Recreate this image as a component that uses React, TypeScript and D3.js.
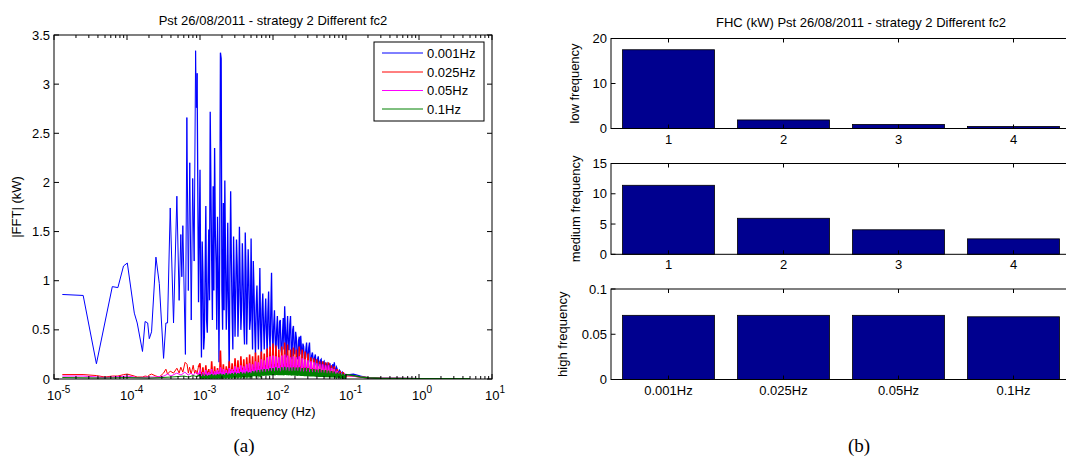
import React from "react";
import * as d3 from "d3";

type Pt = [number, number];

// ---------- Left chart: |FFT| spectra ----------
const legendLabels = ["0.001Hz", "0.025Hz", "0.05Hz", "0.1Hz"];
const seriesColors = ["#0000ff", "#ff0000", "#ff00ff", "#008000"];

// dense frequency grid for the 1e-3 and 1e-2 decades: main points and in-between points
const gridMantissa = [1.0, 1.047, 1.096, 1.148, 1.202, 1.259, 1.318, 1.38, 1.445, 1.514, 1.585, 1.66, 1.738, 1.82, 1.905, 1.995, 2.089, 2.188, 2.291, 2.399, 2.512, 2.63, 2.754, 2.884, 3.02, 3.162, 3.311, 3.467, 3.631, 3.802, 3.981, 4.169, 4.365, 4.571, 4.786, 5.012, 5.248, 5.495, 5.754, 6.026, 6.31, 6.607, 6.918, 7.244, 7.586, 7.943, 8.318, 8.71, 9.12, 9.55];
const midMantissa = [1.023, 1.072, 1.122, 1.175, 1.23, 1.288, 1.349, 1.413, 1.479, 1.549, 1.622, 1.698, 1.778, 1.862, 1.95, 2.042, 2.138, 2.239, 2.344, 2.455, 2.57, 2.692, 2.818, 2.951, 3.09, 3.236, 3.388, 3.548, 3.715, 3.89, 4.074, 4.266, 4.467, 4.677, 4.898, 5.129, 5.37, 5.623, 5.888, 6.166, 6.457, 6.761, 7.079, 7.413, 7.762, 8.128, 8.511, 8.913, 9.333, 9.772];
const gridDecades = [1e-3, 1e-2];

const blueLow: Pt[] = [[1.3e-5, 0.86], [2.51e-5, 0.85], [3.81e-5, 0.155], [6.29e-5, 0.94], [7.5e-5, 0.93], [8.96e-5, 1.15], [1.01e-4, 1.18], [1.26e-4, 0.67], [1.38e-4, 0.57], [1.63e-4, 0.28], [1.77e-4, 0.585], [1.92e-4, 0.57], [2.02e-4, 0.41], [2.17e-4, 0.48], [2.49e-4, 1.24], [2.77e-4, 0.97], [3.17e-4, 0.21], [3.41e-4, 0.57], [3.59e-4, 0.57], [3.91e-4, 1.74], [4.34e-4, 0.57], [4.82e-4, 1.86], [5.18e-4, 0.8], [5.46e-4, 1.47], [5.64e-4, 1.04], [5.82e-4, 1.56], [6.31e-4, 0.25], [6.607e-4, 2.66], [6.918e-4, 0.9], [7.244e-4, 2.2], [7.586e-4, 0.6], [7.943e-4, 2.04], [8.318e-4, 1.2], [8.71e-4, 3.34], [8.91e-4, 2.76], [9.12e-4, 3.11], [9.55e-4, 0.78]];
const blueGrid = [2.13, 0.22, 1.08, 0.43, 1.76, 0.47, 1.52, 2.72, 1.21, 1.96, 2.35, 1.18, 1.65, 0.17, 3.32, 0.91, 1.79, 2.02, 0.5, 1.59, 0.04, 1.91, 0.67, 1.45, 0.43, 1.42, 0.43, 1.55, 0.5, 1.38, 0.57, 1.49, 0.35, 1.32, 0.5, 1.43, 0.3, 0.91, 0.25, 0.95, 0.3, 1.13, 0.2, 0.87, 0.3, 0.82, 0.25, 0.89, 0.3, 1.08,
  0.3, 0.7, 0.25, 0.64, 0.3, 0.6, 0.25, 0.62, 0.74, 0.22, 0.64, 0.3, 0.64, 0.2, 0.54, 0.25, 0.42, 0.2, 0.43, 0.44, 0.2, 0.33, 0.18, 0.37, 0.2, 0.37, 0.15, 0.27, 0.14, 0.25, 0.12, 0.23, 0.12, 0.2, 0.1, 0.18, 0.1, 0.16, 0.09, 0.16, 0.08, 0.15, 0.17, 0.08, 0.1, 0.06, 0.08, 0.05, 0.06, 0.05];
const blueMid = [0.9, 1.4, 0.3, 1.1, 0.6, 1.0, 0.8, 1.9, 0.6, 0.9, 1.5, 0.5, 1.1, 1.3, 3.26, 0.5, 0.7, 1.2, 0.9, 0.7, 1.1, 1.2, 0.3, 1.0, 0.9, 1.15, 0.8, 1.0, 0.7, 1.05, 0.35, 1.1, 0.8, 1.0, 0.6, 0.7, 1.2, 0.5, 0.75, 0.6, 0.65, 0.5, 0.7, 0.55, 0.6, 0.5, 0.68, 0.45, 0.7, 0.45,
  0.55, 0.4, 0.5, 0.35, 0.58, 0.3, 0.45, 0.3, 0.5, 0.45, 0.3, 0.55, 0.3, 0.5, 0.3, 0.48, 0.25, 0.39, 0.25, 0.3, 0.36, 0.2, 0.3, 0.22, 0.32, 0.18, 0.24, 0.2, 0.22, 0.15, 0.2, 0.14, 0.19, 0.12, 0.17, 0.11, 0.15, 0.1, 0.14, 0.09, 0.13, 0.1, 0.09, 0.12, 0.07, 0.09, 0.06, 0.07, 0.05, 0.045];
const blueHigh: Pt[] = [[0.1, 0.04], [0.1259, 0.05], [0.1585, 0.03], [0.1995, 0.012], [0.3, 0.006], [0.5, 0.005], [1, 0.004], [2, 0.004], [5, 0.004]];

const redLow: Pt[] = [[1.3e-5, 0.045], [2.5e-5, 0.045], [3.8e-5, 0.035], [5e-5, 0.02], [6.3e-5, 0.03], [7.5e-5, 0.03], [9e-5, 0.045], [1.01e-4, 0.05], [1.26e-4, 0.03], [1.38e-4, 0.02], [1.63e-4, 0.02], [1.77e-4, 0.03], [1.92e-4, 0.025], [2.02e-4, 0.04], [2.17e-4, 0.05], [2.49e-4, 0.03], [2.77e-4, 0.02], [3.17e-4, 0.06], [3.41e-4, 0.1], [3.59e-4, 0.05], [3.91e-4, 0.08], [4.34e-4, 0.06], [4.82e-4, 0.11], [5.18e-4, 0.06], [5.46e-4, 0.12], [5.82e-4, 0.07], [6.25e-4, 0.17], [6.64e-4, 0.15], [6.93e-4, 0.06], [7.2e-4, 0.12], [7.55e-4, 0.05], [7.85e-4, 0.1], [8.06e-4, 0.14], [8.42e-4, 0.06], [8.75e-4, 0.09], [9.1e-4, 0.05], [9.48e-4, 0.12]];
const redGrid = [0.16, 0.05, 0.12, 0.04, 0.14, 0.06, 0.1, 0.05, 0.18, 0.06, 0.13, 0.07, 0.11, 0.08, 0.29, 0.07, 0.15, 0.06, 0.13, 0.08, 0.18, 0.07, 0.16, 0.09, 0.21, 0.08, 0.19, 0.1, 0.23, 0.09, 0.2, 0.1, 0.22, 0.11, 0.25, 0.1, 0.23, 0.12, 0.27, 0.12, 0.24, 0.13, 0.28, 0.12, 0.26, 0.14, 0.31, 0.13, 0.33, 0.15,
  0.36, 0.15, 0.34, 0.16, 0.3, 0.14, 0.33, 0.15, 0.37, 0.16, 0.35, 0.15, 0.3, 0.14, 0.32, 0.13, 0.3, 0.14, 0.33, 0.13, 0.3, 0.12, 0.28, 0.12, 0.26, 0.11, 0.22, 0.11, 0.21, 0.1, 0.2, 0.09, 0.18, 0.09, 0.18, 0.08, 0.17, 0.08, 0.17, 0.07, 0.14, 0.08, 0.13, 0.07, 0.1, 0.06, 0.08, 0.05, 0.07, 0.04];
const redMid = [0.03, 0.02, 0.04, 0.03, 0.02, 0.04, 0.03, 0.02, 0.05, 0.03, 0.04, 0.03, 0.05, 0.04, 0.06, 0.03, 0.05, 0.04, 0.06, 0.04, 0.05, 0.04, 0.06, 0.05, 0.07, 0.04, 0.06, 0.05, 0.07, 0.05, 0.06, 0.05, 0.08, 0.06, 0.07, 0.05, 0.08, 0.06, 0.09, 0.06, 0.08, 0.07, 0.1, 0.07, 0.09, 0.08, 0.1, 0.07, 0.11, 0.08,
  0.08, 0.07, 0.09, 0.08, 0.07, 0.09, 0.08, 0.07, 0.09, 0.08, 0.07, 0.08, 0.07, 0.06, 0.08, 0.07, 0.06, 0.07, 0.06, 0.06, 0.05, 0.06, 0.05, 0.05, 0.06, 0.05, 0.04, 0.05, 0.04, 0.04, 0.04, 0.035, 0.04, 0.035, 0.03, 0.035, 0.03, 0.03, 0.03, 0.025, 0.03, 0.025, 0.02, 0.025, 0.02, 0.02, 0.02, 0.02, 0.02, 0.02];
const redHigh: Pt[] = [[0.1, 0.035], [0.1259, 0.03], [0.1585, 0.02], [0.1995, 0.012], [0.3, 0.006], [0.5, 0.004], [1, 0.003], [5, 0.003]];

const magentaLow: Pt[] = [[1.3e-5, 0.03], [2.5e-5, 0.03], [5e-5, 0.015], [1e-4, 0.03], [1.4e-4, 0.015], [2e-4, 0.02], [2.5e-4, 0.02], [3.2e-4, 0.03], [3.6e-4, 0.05], [4e-4, 0.03], [4.8e-4, 0.06], [5.5e-4, 0.04], [6.2e-4, 0.07], [6.9e-4, 0.04], [7.5e-4, 0.06], [8.1e-4, 0.04], [8.8e-4, 0.07], [9.5e-4, 0.04]];
const magentaGrid = [0.08, 0.03, 0.07, 0.03, 0.09, 0.04, 0.07, 0.04, 0.1, 0.04, 0.08, 0.05, 0.09, 0.05, 0.12, 0.05, 0.1, 0.05, 0.09, 0.05, 0.11, 0.06, 0.1, 0.06, 0.13, 0.06, 0.12, 0.07, 0.14, 0.07, 0.13, 0.07, 0.15, 0.08, 0.16, 0.08, 0.15, 0.09, 0.18, 0.09, 0.17, 0.1, 0.2, 0.1, 0.19, 0.1, 0.22, 0.11, 0.23, 0.11,
  0.24, 0.12, 0.23, 0.12, 0.22, 0.11, 0.24, 0.12, 0.25, 0.12, 0.24, 0.11, 0.22, 0.11, 0.23, 0.1, 0.22, 0.1, 0.23, 0.1, 0.21, 0.09, 0.2, 0.09, 0.19, 0.09, 0.18, 0.08, 0.17, 0.08, 0.16, 0.07, 0.15, 0.07, 0.15, 0.07, 0.14, 0.06, 0.14, 0.06, 0.11, 0.06, 0.1, 0.05, 0.08, 0.05, 0.06, 0.04, 0.05, 0.04];
const magentaMid = [0.02, 0.015, 0.02, 0.02, 0.025, 0.02, 0.025, 0.02, 0.03, 0.02, 0.03, 0.025, 0.03, 0.025, 0.035, 0.03, 0.035, 0.03, 0.04, 0.03, 0.035, 0.03, 0.04, 0.035, 0.045, 0.035, 0.04, 0.04, 0.05, 0.04, 0.045, 0.04, 0.05, 0.045, 0.055, 0.045, 0.05, 0.05, 0.06, 0.05, 0.055, 0.05, 0.06, 0.055, 0.065, 0.055, 0.06, 0.06, 0.07, 0.06,
  0.07, 0.06, 0.07, 0.065, 0.06, 0.07, 0.065, 0.06, 0.07, 0.065, 0.06, 0.065, 0.06, 0.055, 0.06, 0.055, 0.05, 0.055, 0.05, 0.05, 0.045, 0.05, 0.045, 0.045, 0.04, 0.045, 0.04, 0.04, 0.035, 0.04, 0.035, 0.03, 0.035, 0.03, 0.03, 0.03, 0.025, 0.03, 0.025, 0.025, 0.025, 0.02, 0.025, 0.02, 0.02, 0.02, 0.018, 0.018, 0.016, 0.016];
const magentaHigh: Pt[] = [[0.1, 0.04], [0.1259, 0.03], [0.1585, 0.02], [0.1995, 0.012], [0.3, 0.006], [0.5, 0.004], [1, 0.003], [5, 0.003]];

const greenLow: Pt[] = [[1.3e-5, 0.015], [5e-5, 0.01], [1e-4, 0.015], [2e-4, 0.01], [3e-4, 0.015], [4e-4, 0.02], [5e-4, 0.025], [6e-4, 0.03], [7e-4, 0.02], [8e-4, 0.035], [9e-4, 0.025]];
const greenGrid = [0.04, 0.02, 0.035, 0.02, 0.045, 0.02, 0.04, 0.025, 0.05, 0.025, 0.045, 0.025, 0.05, 0.03, 0.055, 0.03, 0.05, 0.03, 0.06, 0.03, 0.055, 0.035, 0.06, 0.035, 0.065, 0.035, 0.06, 0.04, 0.07, 0.04, 0.065, 0.04, 0.075, 0.045, 0.07, 0.045, 0.08, 0.05, 0.085, 0.05, 0.09, 0.05, 0.095, 0.055, 0.1, 0.055, 0.1, 0.06, 0.11, 0.06,
  0.11, 0.06, 0.12, 0.065, 0.11, 0.06, 0.12, 0.065, 0.125, 0.065, 0.12, 0.06, 0.115, 0.06, 0.12, 0.06, 0.115, 0.06, 0.12, 0.055, 0.11, 0.055, 0.115, 0.055, 0.11, 0.05, 0.1, 0.05, 0.1, 0.05, 0.095, 0.045, 0.1, 0.045, 0.09, 0.045, 0.09, 0.04, 0.085, 0.04, 0.08, 0.04, 0.075, 0.035, 0.065, 0.035, 0.06, 0.03, 0.055, 0.03];
const greenMid = [0.01, 0.008, 0.01, 0.01, 0.012, 0.01, 0.012, 0.01, 0.014, 0.012, 0.014, 0.012, 0.016, 0.014, 0.016, 0.014, 0.018, 0.016, 0.02, 0.016, 0.02, 0.018, 0.022, 0.02, 0.022, 0.02, 0.024, 0.022, 0.026, 0.024, 0.026, 0.024, 0.028, 0.026, 0.03, 0.028, 0.03, 0.03, 0.032, 0.03, 0.034, 0.032, 0.035, 0.034, 0.036, 0.035, 0.038, 0.036, 0.04, 0.038,
  0.04, 0.038, 0.042, 0.04, 0.04, 0.042, 0.04, 0.038, 0.042, 0.04, 0.038, 0.04, 0.036, 0.038, 0.036, 0.035, 0.034, 0.035, 0.033, 0.032, 0.032, 0.03, 0.031, 0.03, 0.029, 0.028, 0.028, 0.027, 0.026, 0.025, 0.025, 0.024, 0.023, 0.023, 0.022, 0.021, 0.02, 0.02, 0.019, 0.018, 0.018, 0.017, 0.016, 0.016, 0.015, 0.014, 0.014, 0.013, 0.012, 0.012];
const greenHigh: Pt[] = [[0.1, 0.045], [0.1259, 0.035], [0.1585, 0.02], [0.1995, 0.012], [0.3, 0.006], [0.5, 0.004], [1, 0.003], [5, 0.003]];

const yTicksLeft = [0, 0.5, 1, 1.5, 2, 2.5, 3, 3.5];
const xExponents = [-5, -4, -3, -2, -1, 0, 1];

// ---------- Right chart: FHC bars ----------
const barCategories = ["1", "2", "3", "4"];
const barFreqLabels = ["0.001Hz", "0.025Hz", "0.05Hz", "0.1Hz"];
const lowFreq = [17.5, 1.9, 0.9, 0.45];
const mediumFreq = [11.4, 5.95, 4.05, 2.55];
const highFreq = [0.0709, 0.0709, 0.0709, 0.0693];
const lowTicks = [0, 10, 20];
const mediumTicks = [0, 5, 10, 15];
const highTicks = [0, 0.05, 0.1];

const denseFreq = gridDecades.flatMap((dec) => gridMantissa.map((m) => m * dec));
const midFreq = gridDecades.flatMap((dec) => midMantissa.map((m) => m * dec));
function buildSeries(low: Pt[], grid: number[], mid: number[], high: Pt[]): Pt[] {
  const pts: Pt[] = [
    ...low,
    ...denseFreq.map((f, i) => [f, grid[i]] as Pt),
    ...midFreq.map((f, i) => [f, mid[i]] as Pt),
    ...high,
  ];
  return pts.sort((a, b) => a[0] - b[0]);
}

const SANS = "'Liberation Sans', Arial, Helvetica, sans-serif";
const SERIF = "'Liberation Serif', 'Times New Roman', serif";
const FS = 13;
// the FFT is very dense above 1 mHz; its strokes are drawn a little heavier there
const DENSE_FROM = 9.5e-4;
const denseWidths = [1.3, 1.6, 1.6, 1.6];

export default function App() {
  const series = [
    buildSeries(blueLow, blueGrid, blueMid, blueHigh),
    buildSeries(redLow, redGrid, redMid, redHigh),
    buildSeries(magentaLow, magentaGrid, magentaMid, magentaHigh),
    buildSeries(greenLow, greenGrid, greenMid, greenHigh),
  ];

  const L = { x0: 54, x1: 492, y0: 35, y1: 379 };
  const x = d3.scaleLog().domain([1e-5, 10]).range([L.x0, L.x1]);
  const y = d3.scaleLinear().domain([0, 3.5]).range([L.y1, L.y0]);
  const line = d3.line<Pt>().x((d) => x(d[0])).y((d) => y(d[1]));

  const minorTicks: number[] = [];
  for (let e = -5; e < 1; e++) for (let m = 2; m <= 9; m++) minorTicks.push(m * Math.pow(10, e));

  const leg = { x0: 374, x1: 484, y0: 42, y1: 121, rows: [53, 72, 90.5, 109], lx0: 382, lx1: 423, tx: 427 };

  const R = { x0: 611, x1: 1071 };
  const xb = d3.scaleLinear().domain([0.5, 4.5]).range([R.x0, R.x1]);
  const panels = [
    { name: "low frequency", values: lowFreq, ticks: lowTicks, max: 20, top: 38.5, bottom: 128.5, cats: barCategories, labX: 579 },
    { name: "medium frequency", values: mediumFreq, ticks: mediumTicks, max: 15, top: 163.5, bottom: 254.3, cats: barCategories, labX: 580 },
    { name: "high frequency", values: highFreq, ticks: highTicks, max: 0.1, top: 289, bottom: 379.5, cats: barFreqLabels, labX: 567 },
  ];

  const txt = { fontFamily: SANS, fontSize: FS, fill: "#000" } as const;

  return (
    <svg width={1066} height={457} style={{ position: "absolute", left: 0, top: 0, background: "#fff" }}>
      <defs>
        <clipPath id="clipL">
          <rect x={L.x0} y={L.y0} width={L.x1 - L.x0} height={L.y1 - L.y0} />
        </clipPath>
      </defs>
      <rect x={0} y={0} width={1066} height={457} fill="#fff" />

      {/* ---------- Left chart ---------- */}
      <text x={(L.x0 + L.x1) / 2} y={25} textAnchor="middle" {...txt}>Pst 26/08/2011 - strategy 2 Different fc2</text>
      <g clipPath="url(#clipL)">
        {series.map((s, i) => {
          const sparse = s.filter((d) => d[0] <= DENSE_FROM);
          const dense = s.filter((d) => d[0] >= DENSE_FROM);
          const lastSparse = sparse[sparse.length - 1];
          const denseJoined = dense[0] === lastSparse ? dense : [lastSparse, ...dense];
          return (
            <g key={i}>
              <path d={line(sparse) || ""} fill="none" stroke={seriesColors[i]} strokeWidth={1} />
              <path d={line(denseJoined) || ""} fill="none" stroke={seriesColors[i]} strokeWidth={denseWidths[i]} />
            </g>
          );
        })}
      </g>
      <rect x={L.x0} y={L.y0} width={L.x1 - L.x0} height={L.y1 - L.y0} fill="none" stroke="#000" strokeWidth={1} />
      {xExponents.map((e) => {
        const px = x(Math.pow(10, e));
        return (
          <g key={e}>
            <line x1={px} x2={px} y1={L.y1} y2={L.y1 - 5} stroke="#000" />
            <line x1={px} x2={px} y1={L.y0} y2={L.y0 + 5} stroke="#000" />
            <text x={px - 7} y={400} {...txt}>10<tspan dy={-7} fontSize={10}>{e}</tspan></text>
          </g>
        );
      })}
      {minorTicks.map((v, i) => {
        const px = x(v);
        return (
          <g key={"m" + i}>
            <line x1={px} x2={px} y1={L.y1} y2={L.y1 - 3} stroke="#000" />
            <line x1={px} x2={px} y1={L.y0} y2={L.y0 + 3} stroke="#000" />
          </g>
        );
      })}
      {yTicksLeft.map((v) => (
        <g key={v}>
          <line x1={L.x0} x2={L.x0 + 5} y1={y(v)} y2={y(v)} stroke="#000" />
          <line x1={L.x1} x2={L.x1 - 5} y1={y(v)} y2={y(v)} stroke="#000" />
          <text x={L.x0 - 4} y={y(v) + 4.5} textAnchor="end" {...txt}>{String(v)}</text>
        </g>
      ))}
      <text x={(L.x0 + L.x1) / 2} y={416} textAnchor="middle" {...txt}>frequency (Hz)</text>
      <text transform={`translate(21,${(L.y0 + L.y1) / 2}) rotate(-90)`} textAnchor="middle" {...txt}>|FFT| (kW)</text>

      {/* legend */}
      <rect x={leg.x0} y={leg.y0} width={leg.x1 - leg.x0} height={leg.y1 - leg.y0} fill="#fff" stroke="#000" strokeWidth={1} />
      {legendLabels.map((lab, i) => (
        <g key={lab}>
          <line x1={leg.lx0} x2={leg.lx1} y1={leg.rows[i]} y2={leg.rows[i]} stroke={seriesColors[i]} strokeWidth={1} />
          <text x={leg.tx} y={leg.rows[i] + 4.5} {...txt}>{lab}</text>
        </g>
      ))}

      <text x={244} y={452} textAnchor="middle" fontFamily={SERIF} fontSize={19}>(a)</text>

      {/* ---------- Right chart ---------- */}
      <text x={861} y={27} textAnchor="middle" {...txt}>FHC (kW) Pst 26/08/2011 - strategy 2 Different fc2</text>
      {panels.map((p, pi) => {
        const yb = d3.scaleLinear().domain([0, p.max]).range([p.bottom, p.top]);
        return (
          <g key={pi}>
            {p.values.map((v, i) => (
              <rect key={i} x={xb(i + 1 - 0.4)} y={yb(v)} width={xb(i + 1.4) - xb(i + 0.6)} height={yb(0) - yb(v)} fill="#00008f" stroke="#000" strokeWidth={0.8} />
            ))}
            <rect x={R.x0} y={p.top} width={R.x1 - R.x0} height={p.bottom - p.top} fill="none" stroke="#000" strokeWidth={1} />
            {p.ticks.map((t) => (
              <g key={t}>
                <line x1={R.x0} x2={R.x0 + 4.5} y1={yb(t)} y2={yb(t)} stroke="#000" />
                <text x={R.x0 - 4} y={yb(t) + 4.5} textAnchor="end" {...txt}>{String(t)}</text>
              </g>
            ))}
            {p.cats.map((c, i) => (
              <g key={c}>
                <line x1={xb(i + 1)} x2={xb(i + 1)} y1={p.bottom} y2={p.bottom - 4} stroke="#000" />
                <line x1={xb(i + 1)} x2={xb(i + 1)} y1={p.top} y2={p.top + 4} stroke="#000" />
                <text x={xb(i + 1)} y={p.bottom + 15} textAnchor="middle" {...txt}>{c}</text>
              </g>
            ))}
            <text transform={`translate(${p.labX},${(p.top + p.bottom) / 2}) rotate(-90)`} textAnchor="middle" {...txt}>{p.name}</text>
          </g>
        );
      })}
      <text x={859} y={452} textAnchor="middle" fontFamily={SERIF} fontSize={19}>(b)</text>
    </svg>
  );
}
